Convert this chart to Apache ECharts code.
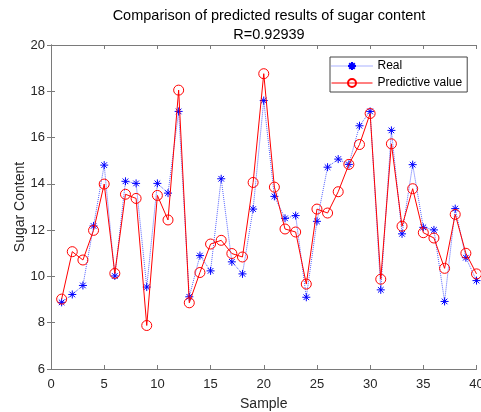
<!DOCTYPE html>
<html>
<head>
<meta charset="utf-8">
<script src="https://cdn.jsdelivr.net/npm/echarts@6/dist/echarts.min.js"></script>
<style>
  html, body { margin: 0; padding: 0; background: #fff; }
  #main { width: 481px; height: 412px; }
</style>
</head>
<body>
<div id="main"></div>
<script>
var samples = [1, 2, 3, 4, 5, 6, 7, 8, 9, 10, 11, 12, 13, 14, 15, 16, 17, 18, 19, 20,
  21, 22, 23, 24, 25, 26, 27, 28, 29, 30, 31, 32, 33, 34, 35, 36, 37, 38, 39, 40];
var realValues = [8.88, 9.22, 9.61, 12.18, 14.81, 10.02, 14.11, 14.02, 9.54, 14.02,
  13.60, 17.13, 9.12, 10.90, 10.24, 14.22, 10.63, 10.11, 12.91, 17.60,
  13.46, 12.51, 12.63, 9.10, 12.38, 14.72, 15.07, 14.84, 16.51, 17.13,
  9.42, 16.31, 11.84, 14.83, 12.12, 12.01, 8.92, 12.93, 10.81, 9.82];
var predValues = [9.02, 11.07, 10.71, 11.99, 13.99, 10.13, 13.55, 13.37, 7.88, 13.50,
  12.44, 18.05, 8.86, 10.17, 11.40, 11.56, 10.99, 10.84, 14.06, 18.76,
  13.86, 12.05, 11.92, 9.67, 12.91, 12.74, 13.66, 14.84, 15.70, 17.04,
  9.88, 15.73, 12.17, 13.79, 11.89, 11.66, 10.35, 12.68, 11.00, 10.11];

var font = 'Arial, "Liberation Sans", sans-serif';
var axisColor = '#7a7a7a';
var textColor = '#262626';

function pairs(vals) {
  return samples.map(function (s, i) { return [s, vals[i]]; });
}

// asterisk marker like matlab '*'
var starPath = 'path://M5 0L5 10M0 5L10 5M1.5 1.5L8.5 8.5M1.5 8.5L8.5 1.5';

var chart = echarts.init(document.getElementById('main'));

function baseAxis(extra) {
  var a = {
    type: 'value',
    axisLine: { show: true, lineStyle: { color: axisColor, width: 1 } },
    axisTick: { show: true, inside: true, length: 4, lineStyle: { color: axisColor } },
    splitLine: { show: false },
    axisLabel: { color: textColor, fontSize: 13, fontFamily: font }
  };
  for (var k in extra) a[k] = extra[k];
  return a;
}

var option = {
  animation: false,
  backgroundColor: '#fff',
  title: {
    text: 'Comparison of predicted results of sugar content\nR=0.92939',
    left: 264,
    top: 2,
    textAlign: 'center',
    textStyle: { fontSize: 14.5, fontWeight: 'normal', color: '#000', fontFamily: font, lineHeight: 18.5 }
  },
  grid: { left: 51, right: 4.5, top: 45, bottom: 43, outerBoundsMode: 'none' },
  legend: {
    orient: 'vertical',
    left: 330,
    top: 57,
    padding: [2, 5, 2, 1],
    itemWidth: 41,
    itemHeight: 10,
    itemGap: 3,
    borderColor: '#444',
    borderWidth: 1,
    borderRadius: 0,
    backgroundColor: '#fff',
    textStyle: { fontSize: 12, color: '#000', fontFamily: font, lineHeight: 14 },
    data: [
      { name: 'Real', lineStyle: { width: 1, type: 'dotted', color: '#2b3cff' } },
      { name: 'Predictive value', lineStyle: { width: 1, type: 'solid', color: '#ff0000' } }
    ]
  },
  xAxis: [
    baseAxis({ min: 0, max: 40, interval: 5, position: 'bottom',
      axisLabel: { color: textColor, fontSize: 13, fontFamily: font, margin: 9 },
      name: 'Sample', nameLocation: 'middle', nameGap: 28,
      nameTextStyle: { fontSize: 14, color: textColor, fontFamily: font } }),
    baseAxis({ min: 0, max: 40, interval: 5, position: 'top', axisLabel: { show: false } })
  ],
  yAxis: [
    baseAxis({ min: 6, max: 20, interval: 2, position: 'left',
      axisLabel: { color: textColor, fontSize: 13, fontFamily: font, margin: 6 },
      name: 'Sugar Content', nameLocation: 'middle', nameGap: 24, nameMoveOverlap: false,
      nameTextStyle: { fontSize: 14, color: textColor, fontFamily: font } }),
    baseAxis({ min: 6, max: 20, interval: 2, position: 'right', axisLabel: { show: false } })
  ],
  series: [
    {
      name: 'Real',
      type: 'line',
      data: pairs(realValues),
      symbol: starPath,
      symbolSize: 8,
      itemStyle: { color: '#0000ff', borderColor: '#0000ff', borderWidth: 1 },
      lineStyle: { color: '#2b3cff', width: 1, type: 'dotted', opacity: 0.8 },
      z: 2
    },
    {
      name: 'Predictive value',
      type: 'line',
      data: pairs(predValues),
      symbol: 'circle',
      symbolSize: 10,
      itemStyle: { color: 'rgba(255,255,255,0)', borderColor: '#ff0000', borderWidth: 1 },
      lineStyle: { color: '#ff0000', width: 1 },
      z: 3
    }
  ]
};

chart.setOption(option);
</script>
</body>
</html>
